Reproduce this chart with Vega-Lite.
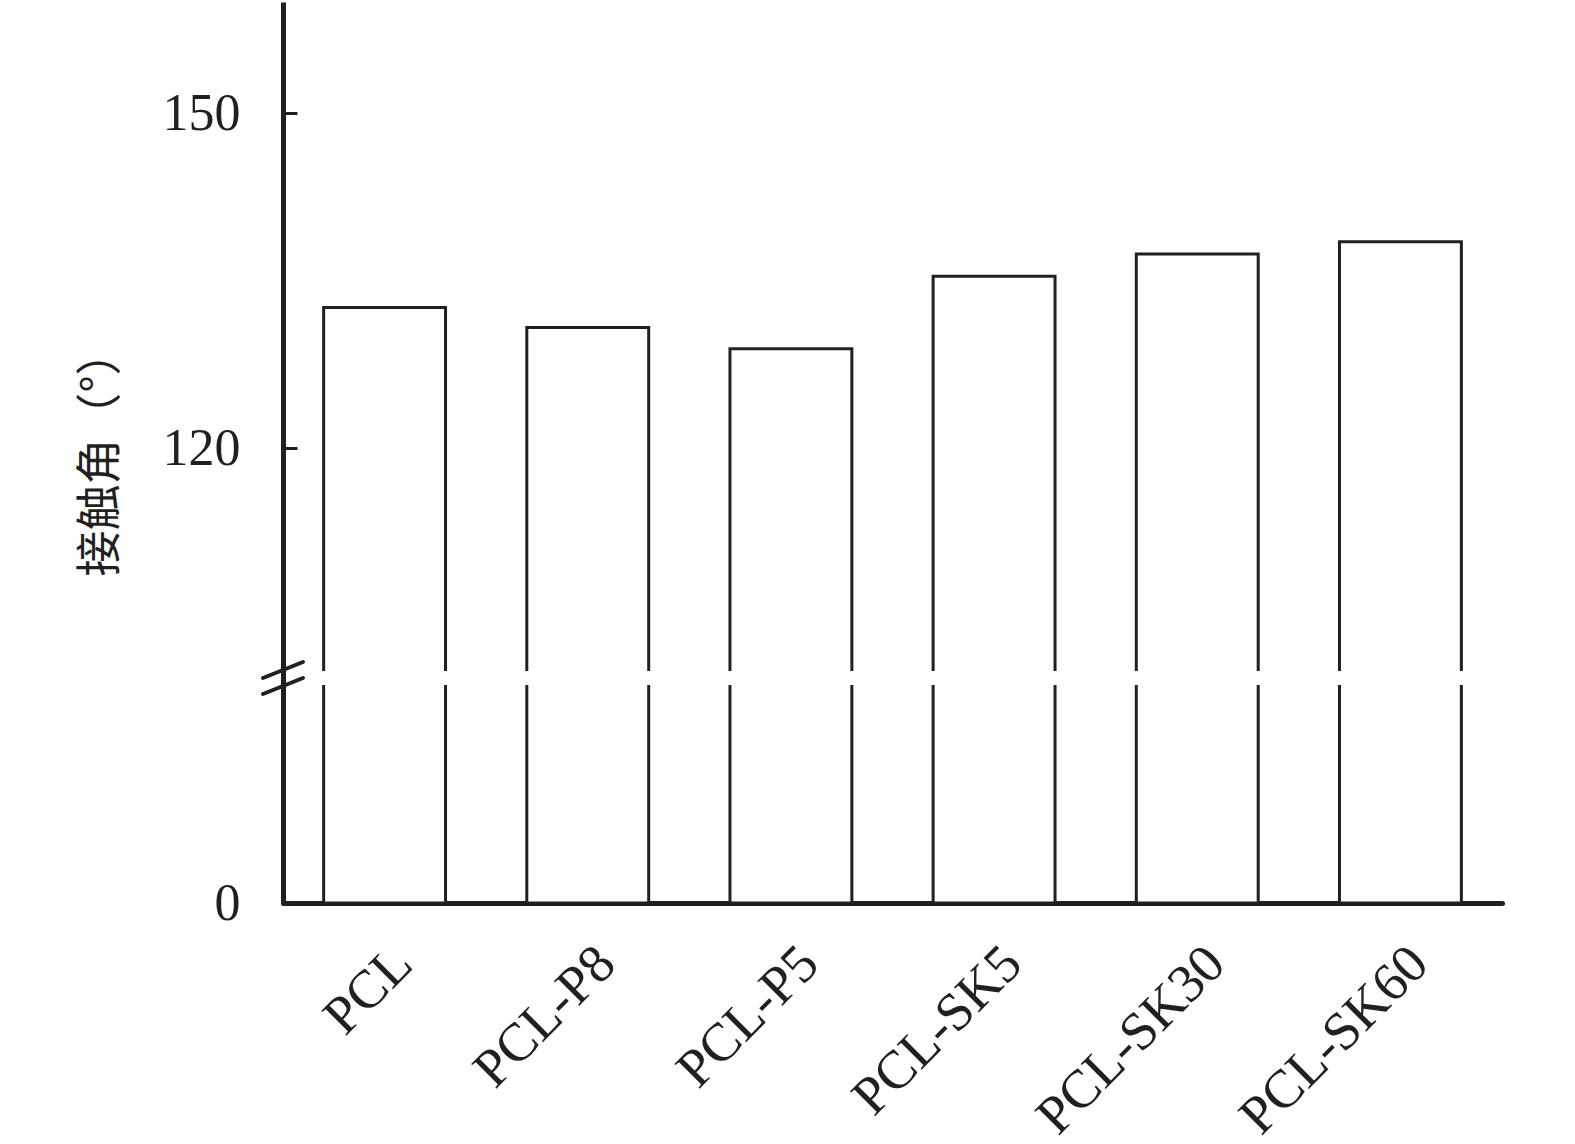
{
  "$schema": "https://vega.github.io/schema/vega-lite/v6.json",
  "width": 1219,
  "height": 901,
  "autosize": {"type": "none"},
  "padding": {"left": 283, "top": 2, "right": 73, "bottom": 241},
  "background": "white",
  "config": {"view": {"stroke": null}, "axis": {"grid": false}},
  "data": {"values": [
    {"sample": "PCL", "angle": 132.6},
    {"sample": "PCL-P8", "angle": 130.8},
    {"sample": "PCL-P5", "angle": 128.9},
    {"sample": "PCL-SK5", "angle": 135.4},
    {"sample": "PCL-SK30", "angle": 137.4},
    {"sample": "PCL-SK60", "angle": 138.5}
  ]},
  "resolve": {"scale": {"x": "independent"}},
  "layer": [
    {
      "encoding": {
        "x": {
          "field": "sample", "type": "nominal", "sort": null,
          "scale": {"paddingInner": 0.4, "paddingOuter": 0.2},
          "axis": {
            "title": null, "ticks": false,
            "domainColor": "#231f20", "domainWidth": 5, "domainCap": "round",
            "labelAngle": -45, "labelFont": "Liberation Serif", "labelFontSize": 54,
            "labelColor": "#231f20", "labelPadding": 33, "labelAlign": "right", "labelBaseline": "top",
            "labelLimit": 0
          }
        }
      },
      "layer": [
        {
          "mark": {"type": "bar", "fill": "white", "stroke": "#231f20", "strokeWidth": 3},
          "encoding": {
            "y": {
              "field": "angle", "type": "quantitative",
              "scale": {"domain": [0, 99, 100, 160], "range": [901, 683, 669, 0], "nice": false, "zero": false},
              "axis": {
                "title": "接触角（°）", "values": [0, 120, 150],
                "domainColor": "#231f20", "domainWidth": 5,
                "tickColor": "#231f20", "tickWidth": 3, "tickSize": -14,
                "labelFont": "Liberation Serif", "labelFontSize": 52, "labelColor": "#231f20", "labelPadding": 57,
                "titleFont": "Noto Sans CJK SC", "titleFontSize": 46, "titleFontWeight": "normal",
                "titleColor": "#231f20", "titlePadding": 38
              }
            },
            "y2": {"datum": 0}
          }
        },
        {
          "mark": {"type": "bar", "fill": "white", "width": {"band": 1.08}},
          "encoding": {
            "y": {"datum": 99},
            "y2": {"datum": 100}
          }
        }
      ]
    },
    {
      "data": {"values": [{"pos": 0, "brk": 99.5}]},
      "mark": {"type": "point", "shape": "M-1,0.8L1,0M-1,0L1,-0.8", "size": 1600, "filled": false, "stroke": "#231f20", "strokeWidth": 4, "strokeCap": "round", "opacity": 1},
      "encoding": {
        "x": {"field": "pos", "type": "quantitative", "scale": {"domain": [0, 1]}, "axis": null},
        "y": {"field": "brk", "type": "quantitative"}
      }
    }
  ]
}
